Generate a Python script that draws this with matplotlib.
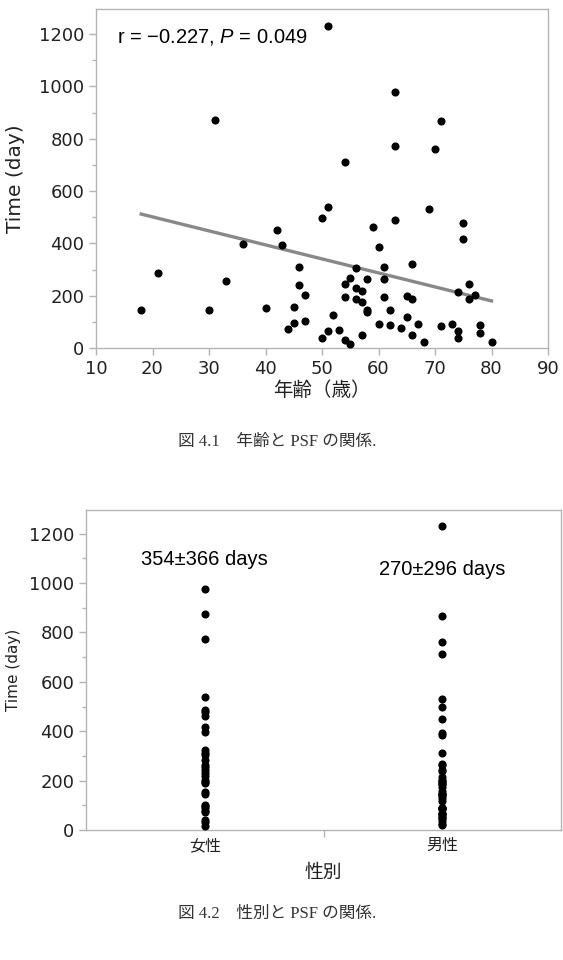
import numpy as np
import matplotlib as mpl
mpl.use('Agg')
import matplotlib.pyplot as plt
from matplotlib.ticker import MultipleLocator, FixedLocator

plt.rcParams['font.family'] = ['DejaVu Sans', 'Noto Sans CJK JP']
plt.rcParams['mathtext.fontset'] = 'custom'
plt.rcParams['mathtext.rm'] = 'Liberation Sans'
plt.rcParams['mathtext.it'] = 'Liberation Sans:italic'

# age (years) vs time (days)
ages = [18, 21, 30, 31, 33, 36, 40, 42, 43, 44, 45, 45, 46, 46, 47, 47,
        50, 50, 51, 51, 51, 52, 53, 54, 54, 54, 54, 55, 55, 56, 56, 56,
        57, 57, 57, 58, 58, 58, 59, 60, 60, 61, 61, 61, 62, 62, 63, 63, 63,
        64, 65, 65, 66, 66, 66, 67, 68, 69, 70, 71, 71, 73, 74, 74, 74,
        75, 75, 76, 76, 77, 78, 78, 80]
days = [144, 285, 147, 873, 255, 396, 152, 451, 393, 71, 156, 97, 311, 239, 203, 103,
        40, 497, 540, 1231, 65, 128, 70, 711, 244, 195, 32, 17, 269, 304, 231, 186,
        217, 176, 49, 264, 147, 138, 462, 386, 91, 310, 264, 195, 146, 88, 978, 772, 488,
        77, 197, 117, 323, 189, 49, 91, 22, 532, 762, 867, 84, 91, 213, 66, 37,
        477, 416, 244, 188, 203, 88, 57, 24]
# regression line as drawn in the figure (ends)
fit_ages = [18, 80]
fit_days = [512, 180]
corr_text = 'r = \u22120.227, $\\mathit{P}$ = 0.049'

# time (days) by sex, fig 4.2
sex_labels = ['女性', '男性']
female_days = [978, 873, 772, 540, 488, 477, 462, 416, 396, 323, 310, 304, 285, 264,
               255, 244, 231, 217, 203, 195, 189, 152, 147, 103, 97, 91, 77, 71, 40, 32, 17]
male_days = [1231, 867, 762, 711, 532, 497, 451, 393, 386, 311, 269, 264, 244, 239,
             213, 203, 197, 195, 188, 186, 176, 156, 146, 147, 144, 138, 128, 117, 91, 91,
             88, 88, 84, 70, 66, 65, 57, 49, 49, 37, 24, 22]
sex_stats = ['354\u00b1366 days', '270\u00b1296 days']
stat_y = [1094, 1057]

spine_col = '#b4b4b4'
txt_col = '#222222'
cap_fonts = ['Liberation Serif', 'Noto Sans CJK JP']

fig = plt.figure(figsize=(5.63, 9.6), dpi=100)


def style_axes(ax):
    for s in ax.spines.values():
        s.set_color(spine_col)
        s.set_linewidth(1.0)
    ax.tick_params(which='both', colors=spine_col, labelcolor=txt_col, direction='out')
    ax.tick_params(which='major', length=5, width=1)
    ax.tick_params(which='minor', length=3, width=1)


# --- fig 4.1 ---
ax1 = fig.add_axes([96/563, 1 - 348/960, 452/563, 339/960])
ax1.scatter(ages, days, s=34, color='black', zorder=3, linewidths=0)
ax1.plot(fit_ages, fit_days, color='#888888', lw=2.4, zorder=2)
ax1.set_xlim(10, 90)
ax1.set_ylim(0, 1296)
ax1.xaxis.set_major_locator(MultipleLocator(10))
ax1.yaxis.set_major_locator(MultipleLocator(200))
ax1.yaxis.set_minor_locator(MultipleLocator(100))
style_axes(ax1)
ax1.tick_params(labelsize=13)
ax1.set_ylabel('Time (day)', fontsize=14.5, color=txt_col, va='center')
ax1.yaxis.set_label_coords(-0.177, 0.5)
ax1.set_xlabel('年齢（歳）', fontsize=14, color=txt_col, labelpad=2)
ax1.text(13.7, 1188, corr_text, fontsize=14.5, family='Liberation Sans',
         va='center', ha='left', color='black')

fig.text(277/563, 1 - 442/960, '図 4.1\u3000年齢と PSF の関係.', ha='center', va='center',
         fontsize=12, color='#333333', family=cap_fonts)

# --- fig 4.2 ---
ax2 = fig.add_axes([86/563, 1 - 830/960, 475/563, 320/960])
ax2.scatter(np.zeros(len(female_days)), female_days, s=34, color='black', linewidths=0, zorder=3)
ax2.scatter(np.ones(len(male_days)), male_days, s=34, color='black', linewidths=0, zorder=3)
ax2.set_xlim(-0.5, 1.5)
ax2.set_ylim(0, 1296)
ax2.yaxis.set_major_locator(MultipleLocator(200))
ax2.yaxis.set_minor_locator(MultipleLocator(100))
ax2.xaxis.set_major_locator(FixedLocator([0, 1]))
ax2.xaxis.set_minor_locator(FixedLocator([0.5]))
style_axes(ax2)
ax2.set_xticklabels(sex_labels)
ax2.tick_params(axis='x', which='major', length=0, labelsize=11.5, pad=6)
ax2.tick_params(axis='x', which='minor', length=5)
ax2.tick_params(axis='y', labelsize=13)
ax2.set_ylabel('Time (day)', fontsize=11, color=txt_col, va='center')
ax2.yaxis.set_label_coords(-0.152, 0.5)
ax2.set_xlabel('性別', fontsize=13.5, color=txt_col, labelpad=7)
for i, (t, yv) in enumerate(zip(sex_stats, stat_y)):
    ax2.text(i, yv, t, ha='center', va='center', fontsize=14.5,
             family='Liberation Sans', color='black')

fig.text(277/563, 1 - 914/960, '図 4.2\u3000性別と PSF の関係.', ha='center', va='center',
         fontsize=12, color='#333333', family=cap_fonts)

fig.savefig('out.png', dpi=100)
